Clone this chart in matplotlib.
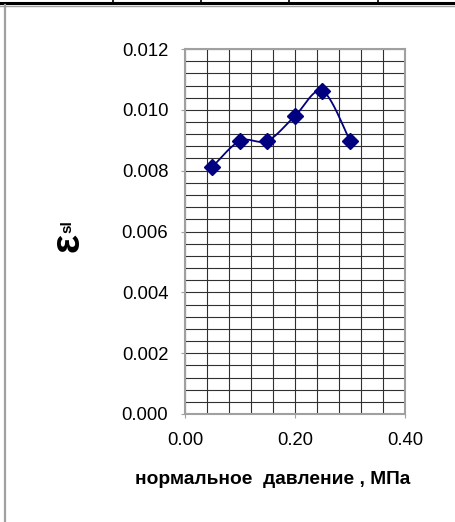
import numpy as np
import matplotlib.pyplot as plt
from matplotlib.lines import Line2D
from matplotlib.ticker import MultipleLocator, FormatStrFormatter

plt.rcParams['font.family'] = ['Liberation Sans', 'DejaVu Sans']

# data
pressure = [0.05, 0.10, 0.15, 0.20, 0.25, 0.30]
eps_sl = [0.00813, 0.00898, 0.00898, 0.00980, 0.01062, 0.00898]

x_label = 'нормальное  давление , МПа'


def smooth_curve(xs, ys, n=30):
    # excel-like smoothed line: bezier segments with catmull-rom control points
    p = np.column_stack([xs, ys])
    p = np.vstack([p[0], p, p[-1]])
    out = []
    for i in range(1, len(p) - 2):
        p0, p1, p2, p3 = p[i - 1], p[i], p[i + 1], p[i + 2]
        c1 = p1 + (p2 - p0) / 6
        c2 = p2 - (p3 - p1) / 6
        t = np.linspace(0, 1, n)[:, None]
        seg = ((1 - t) ** 3 * p1 + 3 * (1 - t) ** 2 * t * c1
               + 3 * (1 - t) * t ** 2 * c2 + t ** 3 * p2)
        out.append(seg)
    out = np.vstack(out)
    return out[:, 0], out[:, 1]


fig = plt.figure(figsize=(4.56, 5.22), dpi=100)
ax = fig.add_axes([185 / 456, 108 / 522, 220 / 456, 365 / 522])

sx, sy = smooth_curve(pressure, eps_sl)
ax.plot(sx, sy, '-', color='#000080', lw=1.3, zorder=3)
ax.plot(pressure, eps_sl, 'D', color='#000080', ms=8, zorder=4)

ax.set_xlim(0, 0.4)
ax.set_ylim(0, 0.012)
ax.xaxis.set_major_locator(MultipleLocator(0.2))
ax.xaxis.set_minor_locator(MultipleLocator(0.04))
ax.yaxis.set_major_locator(MultipleLocator(0.002))
ax.yaxis.set_minor_locator(MultipleLocator(0.0004))
ax.xaxis.set_major_formatter(FormatStrFormatter('%.2f'))
ax.yaxis.set_major_formatter(FormatStrFormatter('%.3f'))
ax.grid(which='both', color='#303030', lw=0.8)
ax.set_axisbelow(True)
ax.tick_params(which='major', direction='out', length=3, color='#a0a0a0',
               labelsize=13.3)
ax.tick_params(axis='y', which='major', pad=9)
ax.tick_params(axis='x', which='major', pad=10)
ax.tick_params(which='minor', length=0)
for s in ax.spines.values():
    s.set_color('#a0a0a0')
    s.set_linewidth(1.5)

fig.text(273 / 456, 1 - 480 / 522, x_label, fontsize=13.8, fontweight='bold',
         ha='center', va='center')

# y label: epsilon with subscript
fig.text(67 / 456, 1 - 243 / 522, 'ε', rotation=90, fontsize=29,
         fontweight='bold', ha='center', va='center')
fig.text(67 / 456, 1 - 227 / 522, 'sl', rotation=90, fontsize=11,
         fontweight='bold', ha='center', va='center')

# surrounding table borders
fig.add_artist(Line2D([0, 1], [1 - 3 / 522, 1 - 3 / 522], color='black', lw=2.2))
fig.add_artist(Line2D([0, 1], [1 - 5.5 / 522, 1 - 5.5 / 522], color='#a0a0a0', lw=1))
for xv in [113, 201, 289, 378]:
    fig.add_artist(Line2D([xv / 456, xv / 456], [1 - 3 / 522, 1], color='black', lw=1.2))
fig.add_artist(Line2D([5.5 / 456, 5.5 / 456], [0, 1 - 5 / 522], color='#a0a0a0', lw=1.6))

fig.savefig('out.png', dpi=100)
